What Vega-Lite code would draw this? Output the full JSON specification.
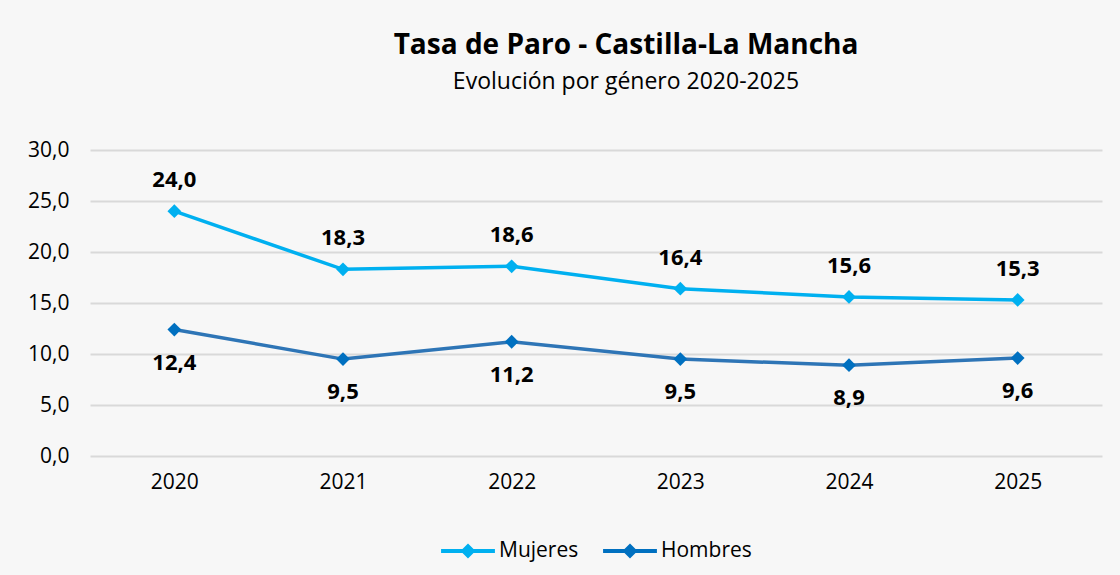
{
  "$schema": "https://vega.github.io/schema/vega-lite/v6.json",
  "width": 1012,
  "height": 306,
  "autosize": {"type": "none"},
  "padding": {"left": 90, "top": 150, "right": 18, "bottom": 119},
  "background": "#F7F7F7",
  "config": {
    "locale": {"number": {"decimal": ",", "thousands": ".", "grouping": [3], "currency": ["", " €"]}},
    "view": {"stroke": null},
    "font": "Open Sans",
    "legend": {"layout": {"bottom": {"anchor": "middle"}}}
  },
  "title": {
    "text": "Tasa de Paro - Castilla-La Mancha",
    "subtitle": "Evolución por género 2020-2025",
    "anchor": "middle",
    "dx": 30,
    "fontSize": 28,
    "fontWeight": "bold",
    "color": "#000000",
    "subtitleFontSize": 23,
    "subtitleColor": "#000000",
    "subtitlePadding": 11,
    "offset": 45
  },
  "data": {
    "values": [
      {"year": "2020", "serie": "Mujeres", "value": 24.0},
      {"year": "2021", "serie": "Mujeres", "value": 18.3},
      {"year": "2022", "serie": "Mujeres", "value": 18.6},
      {"year": "2023", "serie": "Mujeres", "value": 16.4},
      {"year": "2024", "serie": "Mujeres", "value": 15.6},
      {"year": "2025", "serie": "Mujeres", "value": 15.3},
      {"year": "2020", "serie": "Hombres", "value": 12.4},
      {"year": "2021", "serie": "Hombres", "value": 9.5},
      {"year": "2022", "serie": "Hombres", "value": 11.2},
      {"year": "2023", "serie": "Hombres", "value": 9.5},
      {"year": "2024", "serie": "Hombres", "value": 8.9},
      {"year": "2025", "serie": "Hombres", "value": 9.6}
    ]
  },
  "encoding": {
    "x": {
      "field": "year",
      "type": "ordinal",
      "title": null,
      "axis": {
        "labelAngle": 0,
        "labelFontSize": 21,
        "labelColor": "#000000",
        "labelPadding": 15,
        "ticks": false,
        "domain": false,
        "grid": false
      }
    },
    "y": {
      "field": "value",
      "type": "quantitative",
      "title": null,
      "scale": {"domain": [0, 30], "nice": false},
      "axis": {
        "values": [0, 5, 10, 15, 20, 25, 30],
        "format": ".1f",
        "labelFontSize": 21,
        "labelColor": "#000000",
        "labelPadding": 21,
        "ticks": false,
        "domain": false,
        "grid": true,
        "gridColor": "#D9D9D9",
        "gridWidth": 2
      }
    }
  },
  "layer": [
    {
      "mark": {"type": "line", "strokeWidth": 3.5},
      "encoding": {
        "color": {
          "field": "serie",
          "type": "nominal",
          "sort": ["Mujeres", "Hombres"],
          "scale": {"domain": ["Mujeres", "Hombres"], "range": ["#00B0F0", "#2E75B6"]},
          "legend": {
            "title": null,
            "orient": "bottom",
            "direction": "horizontal",
            "offset": 32,
            "labelFontSize": 21,
            "labelColor": "#000000",
            "labelOffset": 4,
            "columnPadding": 24,
            "symbolType": "M-1,-0.075H1V0.075H-1Z M0,-0.28L0.28,0L0,0.28L-0.28,0Z",
            "symbolSize": 2900,
            "symbolStrokeWidth": 0,
            "encode": {
              "symbols": {
                "update": {
                  "fill": {"scale": "color", "field": "value"},
                  "strokeWidth": {"value": 0}
                }
              }
            }
          }
        }
      }
    },
    {
      "mark": {"type": "point", "shape": "diamond", "filled": true, "size": 190, "opacity": 1},
      "encoding": {
        "fill": {
          "field": "serie",
          "type": "nominal",
          "scale": {"domain": ["Mujeres", "Hombres"], "range": ["#00B0F0", "#0070C0"]},
          "legend": null
        }
      }
    },
    {
      "transform": [{"filter": "datum.serie === 'Mujeres'"}],
      "mark": {"type": "text", "dy": -31, "fontSize": 22, "fontWeight": "bold", "color": "#000000"},
      "encoding": {"text": {"field": "value", "type": "quantitative", "format": ".1f"}}
    },
    {
      "transform": [{"filter": "datum.serie === 'Hombres'"}],
      "mark": {"type": "text", "dy": 33, "fontSize": 22, "fontWeight": "bold", "color": "#000000"},
      "encoding": {"text": {"field": "value", "type": "quantitative", "format": ".1f"}}
    }
  ]
}
